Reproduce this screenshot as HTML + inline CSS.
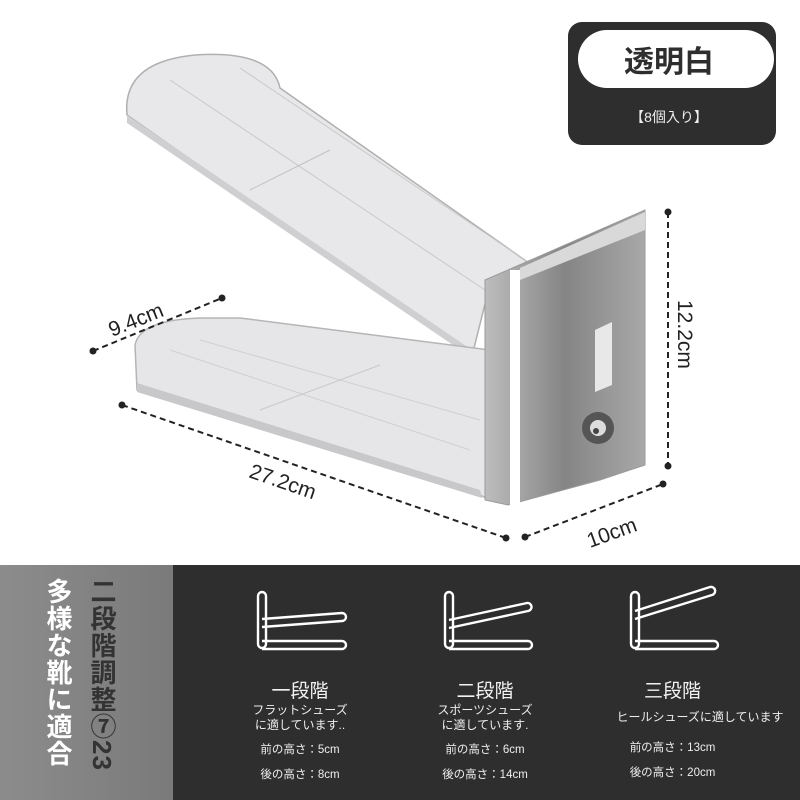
<!DOCTYPE html>
<html><head><meta charset="utf-8"><style>
body{margin:0;width:800px;height:800px;overflow:hidden;background:#fff;font-family:"Liberation Sans","Noto Sans CJK JP",sans-serif;position:relative}
.abs{position:absolute}
.bot{position:absolute;left:0;top:565px;width:800px;height:235px;background:#2e2e2e}
.side{position:absolute;left:0;top:565px;width:173px;height:235px;background:linear-gradient(90deg,#8c8c8c,#7a7a7a)}
.vt{position:absolute;writing-mode:vertical-rl;font-weight:bold;font-size:26px;letter-spacing:1px}
.col{position:absolute;color:#eee;text-align:center}
.t1{font-size:19px;color:#f2f2f2}
.t2{font-size:12px;line-height:15px}
.t3{font-size:11.5px}
</style></head><body>
<svg class="abs" style="left:0;top:0" width="800" height="565">
<defs><linearGradient id="g1" x1="0" y1="0" x2="1" y2="0"><stop offset="0" stop-color="#bdbdbd"/><stop offset="0.5" stop-color="#858585"/><stop offset="1" stop-color="#a8a8a8"/></linearGradient></defs>
<!-- top tray -->
<path d="M127,115 Q122,62 195,55 Q272,50 280,88 L556,282 L488,292 L472,356 Z" fill="#e8e8ea" stroke="#b0b0b0" stroke-width="1.5"/>
<path d="M127,115 L472,350 L472,358 L127,123 Z" fill="#cfcfd1"/>
<line x1="170" y1="80" x2="500" y2="300" stroke="#c8c8c8"/>
<line x1="240" y1="68" x2="540" y2="270" stroke="#c8c8c8"/>
<line x1="250" y1="190" x2="330" y2="150" stroke="#c0c0c0"/>
<!-- bottom tray -->
<path d="M135,345 Q140,320 200,318 L240,318 L490,350 L490,500 L480,495 L137,390 Z" fill="#e6e6e8" stroke="#b5b5b5" stroke-width="1.5"/>
<path d="M137,383 L480,490 L482,498 L137,392 Z" fill="#c8c8ca"/>
<line x1="170" y1="350" x2="470" y2="450" stroke="#d0d0d0"/>
<line x1="200" y1="340" x2="480" y2="420" stroke="#d0d0d0"/>
<line x1="260" y1="410" x2="380" y2="365" stroke="#c8c8c8"/>
<!-- support -->
<path d="M485,280 L645,210 L645,465 L600,480 L508,505 L485,500 Z" fill="url(#g1)" stroke="#9a9a9a"/>
<path d="M510,270 L520,270 L520,505 L510,505 Z" fill="#fff"/>
<path d="M520,268 L645,212 L645,230 L520,280 Z" fill="#d9d9d9"/>
<path d="M595,330 L612,322 L612,385 L595,392 Z" fill="#e8e8e8"/>
<circle cx="598" cy="428" r="16" fill="#555"/><circle cx="598" cy="428" r="8" fill="#ddd"/><circle cx="596" cy="431" r="3" fill="#444"/>
<!-- dims -->
<g stroke="#222" stroke-width="2" stroke-dasharray="6,4" fill="none">
<line x1="93" y1="351" x2="222" y2="298"/>
<line x1="122" y1="405" x2="506" y2="538"/>
<line x1="525" y1="537" x2="663" y2="484"/>
<line x1="668" y1="212" x2="668" y2="466"/>
</g>
<g fill="#222"><circle cx="93" cy="351" r="3.5"/><circle cx="222" cy="298" r="3.5"/><circle cx="122" cy="405" r="3.5"/><circle cx="506" cy="538" r="3.5"/><circle cx="525" cy="537" r="3.5"/><circle cx="663" cy="484" r="3.5"/><circle cx="668" cy="212" r="3.5"/><circle cx="668" cy="466" r="3.5"/></g>
<g font-family="Liberation Sans,sans-serif" font-size="21" fill="#222">
<text x="112" y="337" transform="rotate(-22 112 337)">9.4cm</text>
<text x="248" y="477" transform="rotate(19 248 477)">27.2cm</text>
<text x="590" y="548" transform="rotate(-20 590 548)">10cm</text>
<text x="678" y="300" transform="rotate(90 678 300)">12.2cm</text>
</g>
<!-- badge -->
<rect x="568" y="22" width="208" height="123" rx="14" fill="#2e2e2e"/>
<rect x="578" y="30" width="196" height="58" rx="29" fill="#fff"/>
<text x="669" y="72" text-anchor="middle" font-family="Liberation Sans,Noto Sans CJK JP,sans-serif" font-size="30" font-weight="bold" fill="#2e2e2e">透明白</text>
<text x="669" y="122" text-anchor="middle" font-family="Liberation Sans,Noto Sans CJK JP,sans-serif" font-size="14" fill="#eee">【8個入り】</text>
</svg>
<div class="bot"></div>
<div class="side"></div>
<div class="vt" style="left:40px;top:578px;color:#fff">多様な靴に適合</div>
<div class="vt" style="left:84px;top:578px;color:#333">二段階調整⑦23</div>
<svg class="abs" style="left:0;top:565px" width="800" height="235" fill="none" stroke="#fff" stroke-width="2.4">
<rect x="258" y="27" width="8" height="56" rx="4"/><path d="M262,54 L342,48 A4,4 0 0 1 342,56 L262,62"/><path d="M262,76 L342,76 A4,4 0 0 1 342,84 L262,84"/>
<rect x="445" y="27" width="8" height="56" rx="4"/><path d="M449,55 L527,38 A4,4 0 0 1 528,46 L449,63"/><path d="M449,76 L528,76 A4,4 0 0 1 528,84 L449,84"/>
<rect x="631" y="27" width="8" height="56" rx="4"/><path d="M635,46 L710,22 A4,4 0 0 1 712,30 L635,54"/><path d="M635,76 L714,76 A4,4 0 0 1 714,84 L635,84"/>
</svg>
<div class="col" style="left:225px;top:676px;width:150px"><div class="t1">一段階</div><div class="t2">フラットシューズ<br>に適しています..</div><div class="t3" style="margin-top:8px">前の高さ：5cm</div><div class="t3" style="margin-top:9px">後の高さ：8cm</div></div>
<div class="col" style="left:410px;top:676px;width:150px"><div class="t1">二段階</div><div class="t2">スポーツシューズ<br>に適しています.</div><div class="t3" style="margin-top:8px">前の高さ：6cm</div><div class="t3" style="margin-top:9px">後の高さ：14cm</div></div>
<div class="col" style="left:600px;top:676px;width:200px"><div class="t1" style="margin-left:-55px">三段階</div><div class="t2" style="margin-top:7px">ヒールシューズに適しています</div><div class="t3" style="margin-top:14px;margin-left:-55px">前の高さ：13cm</div><div class="t3" style="margin-top:9px;margin-left:-55px">後の高さ：20cm</div></div>
</body></html>
